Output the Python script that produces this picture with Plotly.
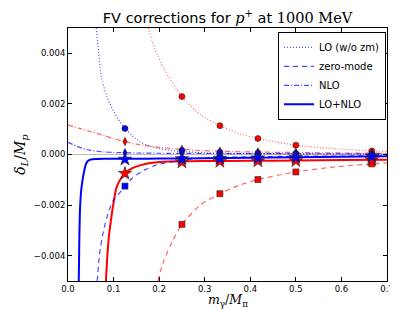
import plotly.graph_objects as go

# ---------------- data ----------------
x_pts = [0.125, 0.25, 0.3333, 0.4167, 0.5, 0.6667]
x_pts_red = [0.25, 0.3333, 0.4167, 0.5, 0.6667]

# blue markers
blue_lo_pts = [0.00103, 0.00016, 0.00009, 0.00006, 0.00004, 0.00002]
blue_zm_pts = [-0.00125, -0.00020, -0.00013, -0.00010, -0.00008, -0.00006]
blue_nlo_pts = [0.00007, 0.00005, 0.00004, 0.00004, 0.00003, 0.00003]
blue_sum_pts = [-0.00019, -0.00017, -0.00016, -0.00014, -0.00012, -0.00008]

# red markers
red_lo_pts = [0.00229, 0.00114, 0.00063, 0.00037, 0.00014]
red_zm_pts = [-0.00276, -0.00155, -0.00099, -0.00069, -0.00037]
red_nlo_x = [0.125, 0.25, 0.3333, 0.4167, 0.5, 0.6667]
red_nlo_pts = [0.00051, 0.00020, 0.00013, 0.00010, 0.00008, 0.00005]
red_sum_pts = [-0.00075, -0.00030, -0.00028, -0.00026, -0.00025, -0.00021]

# curves
blue_sum_x = [0.0236, 0.0250, 0.0265, 0.029, 0.032, 0.035, 0.039, 0.044, 0.05, 0.06, 0.08, 0.1, 0.15, 0.2, 0.3, 0.4, 0.5, 0.6, 0.7]
blue_sum_y = [-0.0050, -0.0032, -0.0021, -0.0014, -0.0010, -0.0007, -0.00040, -0.00025, -0.00020, -0.00018, -0.00017, -0.00017, -0.00017, -0.00016, -0.00015, -0.00013, -0.00011, -0.00009, -0.00007]

red_sum_x = [0.0832, 0.086, 0.09, 0.095, 0.1, 0.106, 0.115, 0.125, 0.14, 0.162, 0.19, 0.22, 0.3, 0.4, 0.5, 0.6, 0.7]
red_sum_y = [-0.005, -0.0041, -0.0032, -0.0025, -0.0019, -0.00133, -0.00098, -0.00075, -0.00055, -0.00041, -0.00032, -0.00028, -0.00026, -0.00025, -0.00024, -0.00022, -0.00021]

blue_zm_x = [0.064, 0.069, 0.078, 0.087, 0.1, 0.126, 0.14, 0.162, 0.194, 0.25, 0.3, 0.4, 0.5, 0.6, 0.7]
blue_zm_y = [-0.005, -0.00396, -0.003, -0.00238, -0.0018, -0.00126, -0.00095, -0.00067, -0.00041, -0.00022, -0.00014, -0.00009, -0.00007, -0.00006, -0.00005]

red_zm_x = [0.197, 0.21, 0.23, 0.25, 0.29, 0.3333, 0.375, 0.4167, 0.46, 0.5, 0.58, 0.6667, 0.7]
red_zm_y = [-0.005, -0.0042, -0.0034, -0.00276, -0.002, -0.00155, -0.00122, -0.00099, -0.00082, -0.00069, -0.0005, -0.00037, -0.00033]

red_lo_x = [0.176, 0.19, 0.21, 0.25, 0.29, 0.3333, 0.375, 0.4167, 0.46, 0.5, 0.58, 0.6667, 0.7]
red_lo_y = [0.005, 0.0042, 0.0034, 0.00229, 0.00158, 0.00114, 0.00083, 0.00063, 0.00048, 0.00037, 0.00023, 0.00014, 0.00012]

blue_lo_x = [0.062, 0.067, 0.073, 0.085, 0.098, 0.11, 0.125, 0.14, 0.158, 0.175, 0.194, 0.22, 0.25, 0.3, 0.4, 0.55, 0.7]
blue_lo_y = [0.005, 0.0041, 0.0031, 0.0023, 0.00178, 0.0014, 0.00103, 0.00075, 0.0005, 0.00036, 0.00025, 0.00017, 0.00012, 0.00007, 0.00004, 0.00002, 0.00001]

red_nlo_cx = [0.0, 0.025, 0.051, 0.075, 0.1, 0.125, 0.15, 0.175, 0.2, 0.25, 0.3, 0.4, 0.5, 0.6, 0.7]
red_nlo_cy = [0.00116, 0.00103, 0.0009, 0.00077, 0.00063, 0.00051, 0.00041, 0.00034, 0.00028, 0.0002, 0.00015, 0.0001, 0.00008, 0.00006, 0.00005]

blue_nlo_cx = [0.0, 0.01, 0.02, 0.03, 0.04, 0.05, 0.062, 0.08, 0.1, 0.15, 0.2, 0.3, 0.5, 0.7]
blue_nlo_cy = [0.00048, 0.0004, 0.00032, 0.00025, 0.0002, 0.00016, 0.00013, 0.0001, 0.00008, 0.00006, 0.00005, 0.00004, 0.00003, 0.00003]

x_ticks = [0.0, 0.1, 0.2, 0.3, 0.4, 0.5, 0.6, 0.7]
y_ticks = [-0.004, -0.002, 0.0, 0.002, 0.004]
y_tick_text = ["\u22120.004", "\u22120.002", "0.000", "0.002", "0.004"]

# ---------------- styles ----------------
BLUE = "#0000ff"
RED = "#ff0000"
BLUE_L = "rgba(0,0,255,0.7)"
RED_L = "rgba(255,0,0,0.6)"
DOT = "1px,2px"
DASH = "5px,4px"
DASHDOT = "5px,2px,1px,2px"

fig = go.Figure()

def curve(x, y, color, dash, width, name=None, legend=False):
    fig.add_trace(go.Scatter(x=x, y=y, mode="lines", name=name, showlegend=legend,
                             line=dict(color=color, dash=dash, width=width, shape="spline", smoothing=0.6),
                             hoverinfo="skip"))

def marks(x, y, color, symbol, size):
    fig.add_trace(go.Scatter(x=x, y=y, mode="markers", showlegend=False,
                             marker=dict(color=color, symbol=symbol, size=size,
                                         line=dict(color="#222222", width=0.6)),
                             cliponaxis=False))

# red curves
curve(red_lo_x, red_lo_y, RED_L, DOT, 1.2)
curve(red_zm_x, red_zm_y, RED_L, DASH, 1.2)
curve(red_nlo_cx, red_nlo_cy, RED_L, DASHDOT, 1.2)
curve(red_sum_x, red_sum_y, RED, "solid", 2)
# blue curves (in legend)
curve(blue_lo_x, blue_lo_y, BLUE_L, DOT, 1.2, "LO (w/o zm)", True)
curve(blue_zm_x, blue_zm_y, BLUE_L, DASH, 1.2, "zero-mode", True)
curve(blue_nlo_cx, blue_nlo_cy, BLUE_L, DASHDOT, 1.2, "NLO", True)
curve(blue_sum_x, blue_sum_y, BLUE, "solid", 2, "LO+NLO", True)

# markers
marks(x_pts_red, red_lo_pts, RED, "circle", 6)
marks(x_pts_red, red_zm_pts, RED, "square", 6)
marks(red_nlo_x, red_nlo_pts, RED, "diamond-tall", 6)
marks(x_pts, red_sum_pts, RED, "star", 10)
marks(x_pts, blue_lo_pts, BLUE, "circle", 6)
marks(x_pts, blue_zm_pts, BLUE, "square", 6)
marks(x_pts, blue_nlo_pts, BLUE, "diamond-tall", 6)
marks(x_pts, blue_sum_pts, BLUE, "star", 10)

fig.add_hline(y=0, line=dict(color="#bbbbbb", width=1), layer="below")

SERIF = "DejaVu Serif"
title = ("FV corrections for <span style='font-family:DejaVu Serif'><i>p</i><sup>+</sup></span>"
         " at <span style='font-family:DejaVu Serif'>1000 MeV</span>")

# x-axis title as an annotation so its subscripts stay inside the page
fig.add_annotation(text="<i>m</i><sub>γ</sub>/<i>M</i><sub>π</sub>",
                   xref="paper", yref="paper", x=0.5, y=-0.036,
                   xanchor="center", yanchor="top", showarrow=False,
                   font=dict(family=SERIF, size=12.5, color="black"))

fig.update_layout(
    width=398, height=309,
    margin=dict(l=59, r=12, t=20, b=36),
    paper_bgcolor="white", plot_bgcolor="white",
    font=dict(family="DejaVu Sans", color="black", size=8.5),
    title=dict(text=title, x=0.5, xref="paper", xanchor="center",
               y=1 - 10 / 309, yanchor="middle", font=dict(size=14.5)),
    showlegend=True,
    legend=dict(x=0.997, y=0.985, xanchor="right", yanchor="top",
                bgcolor="white", bordercolor="black", borderwidth=1,
                font=dict(size=10), tracegroupgap=0, itemwidth=30),
    xaxis=dict(range=[0, 0.7], tickvals=x_ticks, ticktext=[f"{v:.1f}" for v in x_ticks],
               showgrid=False, zeroline=False, showline=True, linecolor="black", linewidth=1,
               mirror="allticks", ticks="inside", ticklen=4, tickcolor="black"),
    yaxis=dict(range=[-0.005, 0.005], tickvals=y_ticks, ticktext=y_tick_text,
               showgrid=False, zeroline=False, showline=True, linecolor="black", linewidth=1,
               mirror="allticks", ticks="inside", ticklen=4, tickcolor="black",
               title=dict(text="<i>δ</i><sub><i>L</i></sub>/<i>M</i><sub><i>p</i></sub>",
                          font=dict(family=SERIF, size=14), standoff=4)),
)

fig.write_html("out.html")
